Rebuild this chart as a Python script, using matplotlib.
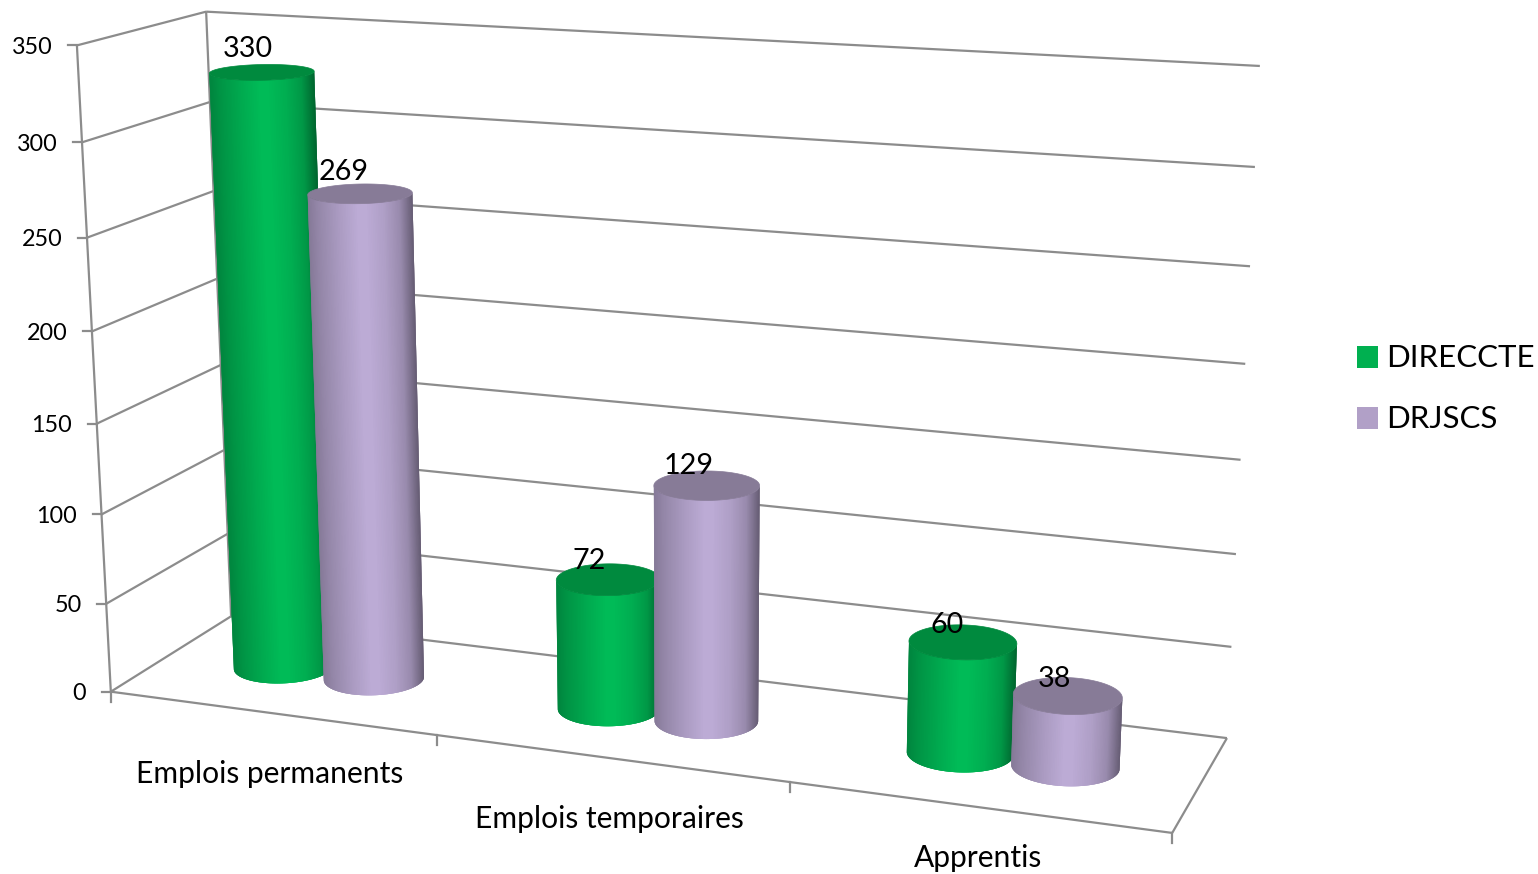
import numpy as np
import matplotlib
matplotlib.use("Agg")
import matplotlib.pyplot as plt
from matplotlib.collections import PolyCollection
from matplotlib.colors import to_rgb

plt.rcParams['font.family'] = ['Lato', 'DejaVu Sans']

# Data
categories = ["Emplois permanents", "Emplois temporaires", "Apprentis"]
direccte = [330, 72, 60]
drjscs = [269, 129, 38]
y_ticks = [0, 50, 100, 150, 200, 250, 300, 350]
y_max = 350

# Colours
green = "#00B956"
green_top = "#008A3E"
purple = "#BAA9D3"
purple_top = "#877B97"
grid_color = "#8C8C8C"

# Perspective of the chart box: unit cube corners (x, value, depth) -> pixels
cube = [(0, 0, 0), (1, 0, 0), (0, 1, 0), (0, 0, 1), (1, 0, 1), (0, 1, 1), (1, 1, 1)]
pixels = [(110, 692), (1172, 833), (78, 45), (232, 616), (1227, 738), (205, 12), (1260, 66)]

rows = []
for (a, b, c), (u, v) in zip(cube, pixels):
    rows.append([a, b, c, 1, 0, 0, 0, 0, -u * a, -u * b, -u * c, -u])
    rows.append([0, 0, 0, 0, a, b, c, 1, -v * a, -v * b, -v * c, -v])
camera = np.linalg.svd(np.array(rows, dtype=float))[2][-1].reshape(3, 4)


def proj(x, value, z):
    # value is in chart units, x and z are 0..1
    x, h, z = np.broadcast_arrays(np.asarray(x, float), np.asarray(value, float) / y_max, np.asarray(z, float))
    p = np.stack([x, h, z, np.ones_like(x)], axis=-1) @ camera.T
    return p[..., 0] / p[..., 2], p[..., 1] / p[..., 2]


def line(a, b, lw=1.6):
    xs, ys = proj(*np.array([a, b], dtype=float).T)
    ax.plot(xs, ys, color=grid_color, lw=lw, solid_capstyle='butt', zorder=1)


def shade(u):
    return np.interp(u, [-1, -0.8, -0.4, -0.05, 0.12, 0.45, 0.75, 1], [0.72, 0.80, 0.92, 1.01, 1.01, 0.94, 0.82, 0.55])


def front_arc(px, py, u):
    # lower side of a projected ellipse, sampled across its width
    left, right = px.min(), px.max()
    front = py >= np.interp(px, [left, right], [py[px.argmin()], py[px.argmax()]])
    order = np.argsort(px[front])
    xs = (left + right) / 2 + u * (right - left) / 2
    return xs, np.interp(xs, px[front][order], py[front][order])


def cylinder(cx, cz, value, base, top):
    th = np.linspace(0, 2 * np.pi, 721)
    xs = cx + radius_x * np.cos(th)
    zs = cz + radius_z * np.sin(th)
    x0, y0 = proj(xs, 0, zs)
    x1, y1 = proj(xs, value, zs)
    u = -np.cos(np.linspace(0, np.pi, 91))
    bx, by = front_arc(x0, y0, u)
    tx, ty = front_arc(x1, y1, u)
    rgb = np.array(to_rgb(base))
    quads, cols = [], []
    # each strip runs on under the next one, so no seams show between them
    for i in range(len(u) - 1):
        j = min(i + 3, len(u) - 1)
        quads.append(list(zip(bx[i:j + 1], by[i:j + 1])) + list(zip(tx[i:j + 1], ty[i:j + 1]))[::-1])
        cols.append(np.clip(rgb * shade((u[i] + u[i + 1]) / 2), 0, 1))
    ax.add_collection(PolyCollection(quads, facecolors=cols, edgecolors='none', zorder=2))
    ax.fill(x1, y1, color=top, lw=0.5, zorder=2)


fig = plt.figure(figsize=(15.38, 8.74), dpi=100)
ax = fig.add_axes([0, 0, 1, 1])
ax.set_xlim(0, 1538)
ax.set_ylim(874, 0)
ax.axis('off')

# Walls and floor
for t in y_ticks:
    line((0, t, 0), (0, t, 1))
    line((0, t, 1), (1, t, 1))
line((0, 0, 0), (0, y_max, 0))
line((0, 0, 1), (0, y_max, 1))
line((0, 0, 0), (1, 0, 0))
line((1, 0, 0), (1, 0, 1))

# Tick marks and labels
for t in y_ticks:
    px, py = proj(0, t, 0)
    ax.plot([px - 9, px], [py, py], color=grid_color, lw=1.6, zorder=1)
    ax.text(px - 24.5, py + 2, str(t), ha='right', va='center', fontsize=16.8, color='black')
for k in range(4):
    px, py = proj(k / 3, 0, 0)
    ax.plot([px, px], [py, py + 10], color=grid_color, lw=1.6, zorder=1)
label_drop = [61, 61, 51]
label_shift = [-1, -1, 1]
for k, name in enumerate(categories):
    px, py = proj((k + 0.5) / 3, 0, 0)
    ax.text(px + label_shift[k], py + label_drop[k], name, ha='center', va='center', fontsize=21.6, color='black')

# Cylinders
radius_x = 0.047
radius_z = 0.2
offset = 0.0475
for k in range(3):
    centre = (k + 0.5) / 3
    cylinder(centre - offset, 0.5, direccte[k], green, green_top)
    cylinder(centre + offset, 0.5, drjscs[k], purple, purple_top)

# Value labels
nudge_direccte = [2, -3, 0]
nudge_drjscs = [0, -2, 3]
for k in range(3):
    centre = (k + 0.5) / 3
    for sign, vals, nudge in ((-1, direccte, nudge_direccte), (1, drjscs, nudge_drjscs)):
        px, py = proj(centre + sign * offset, vals[k], 0.5)
        ax.text(px - 16 + nudge[k], py - 24 + 0.01 * py, str(vals[k]), ha='center', va='center', fontsize=20.7, color='black', zorder=3)

# Legend
for name, col, y in (("DIRECCTE", "#00B050", 357), ("DRJSCS", "#B1A0C7", 418)):
    ax.fill([1357, 1378, 1378, 1357], [y - 11, y - 11, y + 11, y + 11], color=col, lw=0)
    ax.text(1386, y + 1, name, ha='left', va='center', fontsize=22.5, color='black')

fig.savefig("out.png", dpi=100)
